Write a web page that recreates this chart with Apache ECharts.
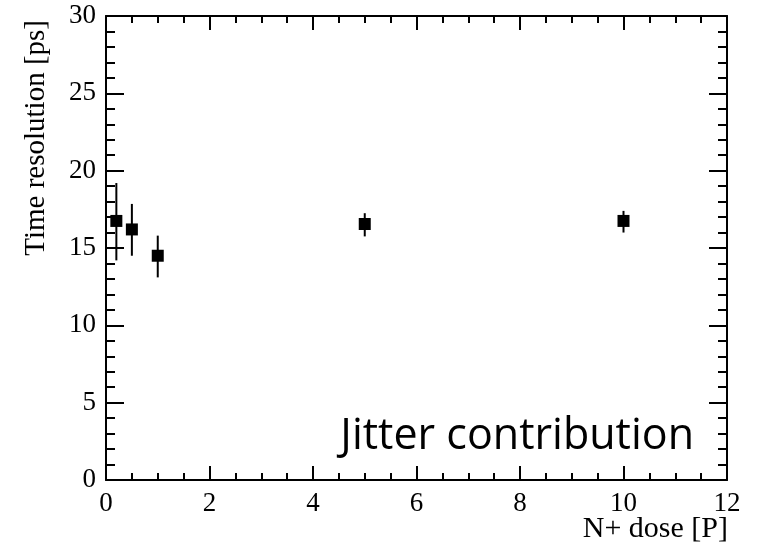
<!DOCTYPE html>
<html>
<head>
<meta charset="utf-8">
<script src="https://cdn.jsdelivr.net/npm/echarts@6/dist/echarts.min.js"></script>
<style>
  html, body { margin: 0; padding: 0; background: #fff; }
  #chart { width: 762px; height: 547px; }
</style>
</head>
<body>
<div id="chart"></div>
<script>
// N+ dose values [P]
const doses = [0.2, 0.5, 1, 5, 10];
// time resolution [ps] and its error bar ends
const resolution = [16.75, 16.2, 14.5, 16.55, 16.75];
const errLow = [14.2, 14.5, 13.1, 15.75, 16.0];
const errHigh = [19.2, 17.85, 15.8, 17.25, 17.4];

let myChart = echarts.init(document.getElementById('chart'));

const serif = '"Liberation Serif", "DejaVu Serif", serif';

let points = doses.map((d, i) => [d, resolution[i]]);
let bars = doses.map((d, i) => [d, errLow[i], errHigh[i]]);

// frame lines, ticks inside, mirrored on top/right
const axisLine = { onZero: false, lineStyle: { color: '#000', width: 2 } };
const tickStyle = { color: '#000', width: 2 };

myChart.setOption({
  animation: false,
  grid: { left: 106, right: 35, top: 16, bottom: 67, outerBoundsMode: 'none', containLabel: false },
  xAxis: [
    {
      type: 'value', min: 0, max: 12, interval: 2,
      axisLine: axisLine,
      axisTick: { inside: true, length: 14, lineStyle: tickStyle },
      minorTick: { show: true, splitNumber: 4, length: 7, lineStyle: tickStyle },
      splitLine: { show: false },
      axisLabel: { color: '#000', fontFamily: serif, fontSize: 27, margin: 10 }
    },
    {
      type: 'value', min: 0, max: 12, interval: 2, position: 'top',
      axisLine: axisLine,
      axisTick: { inside: true, length: 14, lineStyle: tickStyle },
      minorTick: { show: true, splitNumber: 4, length: 7, lineStyle: tickStyle },
      splitLine: { show: false },
      axisLabel: { show: false }
    }
  ],
  yAxis: [
    {
      type: 'value', min: 0, max: 30, interval: 5,
      axisLine: axisLine,
      axisTick: { inside: true, length: 18, lineStyle: tickStyle },
      minorTick: { show: true, splitNumber: 5, length: 9, lineStyle: tickStyle },
      splitLine: { show: false },
      axisLabel: { color: '#000', fontFamily: serif, fontSize: 27, margin: 10 },
      name: 'Time resolution [ps]',
      nameLocation: 'end',
      nameRotate: 90,
      nameGap: 0,
      nameTextStyle: { color: '#000', fontFamily: serif, fontSize: 29, align: 'right', verticalAlign: 'bottom', padding: [0, 4, 55, 0] }
    },
    {
      type: 'value', min: 0, max: 30, interval: 5, position: 'right',
      axisLine: axisLine,
      axisTick: { inside: true, length: 18, lineStyle: tickStyle },
      minorTick: { show: true, splitNumber: 5, length: 9, lineStyle: tickStyle },
      splitLine: { show: false },
      axisLabel: { show: false }
    }
  ],
  graphic: [
    {
      // x axis title, right-aligned under the axis end
      type: 'text',
      x: 728,
      y: 529,
      style: {
        text: 'N+ dose [P]',
        font: '30px "Liberation Serif", "DejaVu Serif", serif',
        fill: '#000',
        align: 'right',
        verticalAlign: 'middle'
      }
    },
    {
      type: 'text',
      x: 694,
      y: 437,
      style: {
        text: 'Jitter contribution',
        font: '43px "Open Sans", "Noto Sans", sans-serif',
        fill: '#000',
        align: 'right',
        verticalAlign: 'middle'
      }
    }
  ],
  series: [
    {
      name: 'error',
      type: 'custom',
      data: bars,
      renderItem: (params, api) => {
        let top = api.coord([api.value(0), api.value(2)]);
        let bot = api.coord([api.value(0), api.value(1)]);
        return {
          type: 'line',
          shape: { x1: top[0], y1: top[1], x2: bot[0], y2: bot[1] },
          style: { stroke: '#000', lineWidth: 2 }
        };
      },
      z: 2
    },
    {
      name: 'Time resolution',
      type: 'scatter',
      symbol: 'rect',
      symbolSize: [12, 12],
      itemStyle: { color: '#000', opacity: 1 },
      data: points,
      z: 3
    }
  ]
});
</script>
</body>
</html>
